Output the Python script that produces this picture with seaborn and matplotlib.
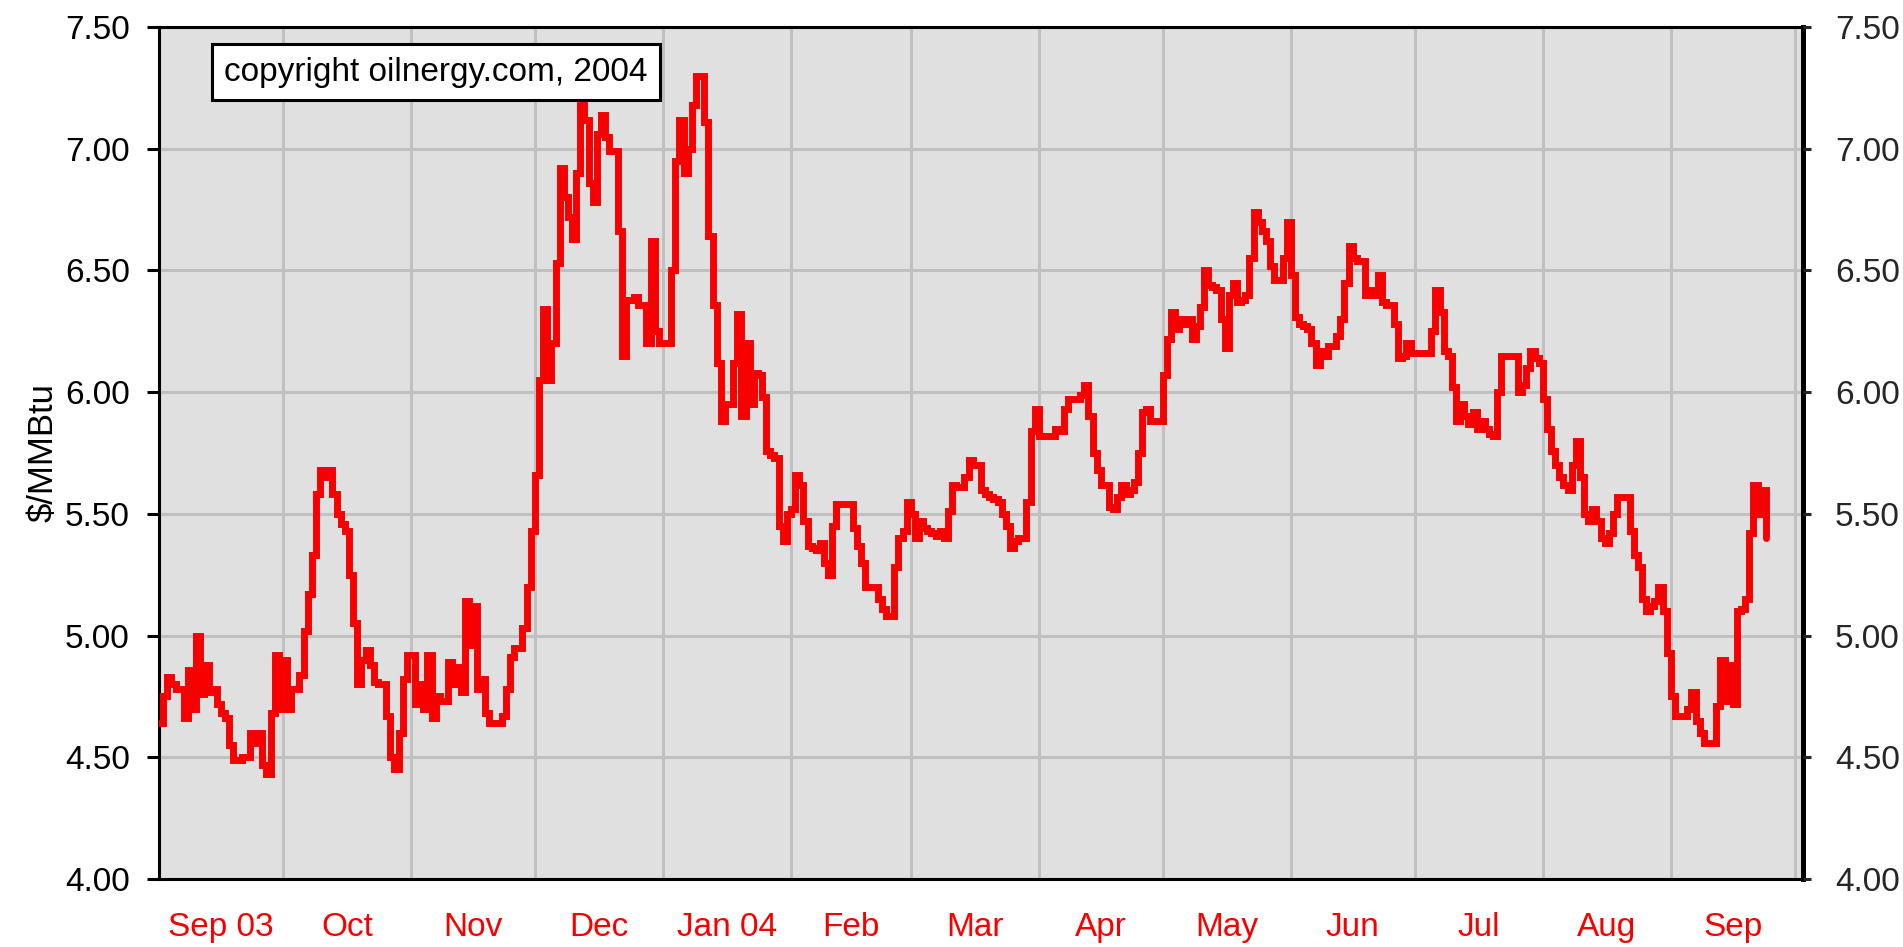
import matplotlib
matplotlib.use("Agg")
import matplotlib.pyplot as plt
import numpy as np
import pandas as pd
import seaborn as sns

# ---------------- data (daily $/MMBtu) ----------------
sep03 = [4.64, 4.75, 4.83, 4.80, 4.78, 4.78, 4.66, 4.86, 4.70, 5.00, 4.76, 4.88, 4.77, 4.78, 4.72,
         4.68, 4.66, 4.55, 4.49, 4.49, 4.50, 4.50, 4.60, 4.56, 4.60, 4.47, 4.43, 4.68, 4.92, 4.70]
oct03 = [4.90, 4.70, 4.78, 4.78, 4.84, 5.02, 5.17, 5.33, 5.58, 5.68, 5.65, 5.68, 5.58, 5.50, 5.46,
         5.43, 5.25, 5.05, 4.80, 4.90, 4.94, 4.88, 4.81, 4.80, 4.80, 4.67, 4.50, 4.45, 4.60, 4.82, 4.92]
nov03 = [4.92, 4.72, 4.80, 4.70, 4.92, 4.66, 4.75, 4.73, 4.73, 4.89, 4.80, 4.87, 4.77, 5.14, 4.96,
         5.12, 4.78, 4.82, 4.68, 4.64, 4.64, 4.64, 4.67, 4.78, 4.91, 4.95, 4.95, 5.03, 5.20, 5.43]
dec03 = [5.66, 6.05, 6.34, 6.05, 6.20, 6.53, 6.92, 6.80, 6.72, 6.63, 6.90, 7.18, 7.12, 6.86, 6.78,
         7.06, 7.14, 7.05, 6.99, 6.99, 6.66, 6.15, 6.38, 6.38, 6.39, 6.36, 6.36, 6.20, 6.62, 6.25, 6.20]
jan04 = [6.20, 6.20, 6.50, 6.95, 7.12, 6.90, 7.00, 7.18, 7.30, 7.30, 7.11, 6.64, 6.36, 6.12, 5.88,
         5.95, 5.95, 6.12, 6.32, 5.90, 6.20, 5.95, 6.08, 6.07, 5.98, 5.76, 5.74, 5.73, 5.45, 5.39, 5.50]
feb04 = [5.52, 5.66, 5.62, 5.47, 5.37, 5.36, 5.35, 5.38, 5.30, 5.25, 5.45, 5.54, 5.54, 5.54, 5.54,
         5.44, 5.37, 5.30, 5.20, 5.20, 5.20, 5.15, 5.11, 5.08, 5.08, 5.28, 5.40, 5.43, 5.55]
mar04 = [5.50, 5.40, 5.47, 5.44, 5.43, 5.42, 5.41, 5.43, 5.40, 5.51, 5.62, 5.61, 5.61, 5.65, 5.72,
         5.70, 5.70, 5.60, 5.58, 5.57, 5.56, 5.55, 5.50, 5.45, 5.36, 5.39, 5.40, 5.40, 5.55, 5.84, 5.93]
apr04 = [5.82, 5.82, 5.82, 5.82, 5.85, 5.84, 5.93, 5.97, 5.97, 5.97, 5.99, 6.03, 5.90, 5.75, 5.68,
         5.62, 5.62, 5.53, 5.52, 5.57, 5.62, 5.58, 5.60, 5.63, 5.75, 5.92, 5.93, 5.88, 5.88, 5.88]
may04 = [6.07, 6.22, 6.33, 6.26, 6.30, 6.28, 6.30, 6.22, 6.27, 6.35, 6.50, 6.44, 6.43, 6.42, 6.30,
         6.18, 6.40, 6.45, 6.37, 6.38, 6.40, 6.55, 6.74, 6.70, 6.66, 6.62, 6.52, 6.46, 6.46, 6.55, 6.70]
jun04 = [6.48, 6.31, 6.28, 6.27, 6.26, 6.20, 6.11, 6.17, 6.15, 6.19, 6.19, 6.23, 6.30, 6.45, 6.60,
         6.55, 6.54, 6.54, 6.40, 6.42, 6.40, 6.48, 6.37, 6.36, 6.36, 6.28, 6.14, 6.15, 6.20, 6.16]
jul04 = [6.16, 6.16, 6.16, 6.16, 6.25, 6.42, 6.33, 6.17, 6.15, 6.02, 5.88, 5.95, 5.90, 5.87, 5.92,
         5.85, 5.88, 5.85, 5.83, 5.82, 6.00, 6.15, 6.15, 6.15, 6.15, 6.00, 6.03, 6.10, 6.17, 6.14, 6.12]
aug04 = [5.97, 5.85, 5.76, 5.70, 5.65, 5.62, 5.60, 5.70, 5.80, 5.65, 5.50, 5.47, 5.52, 5.47, 5.40,
         5.38, 5.42, 5.50, 5.57, 5.57, 5.57, 5.43, 5.33, 5.28, 5.15, 5.10, 5.12, 5.14, 5.20, 5.10, 4.93]
sep04 = [4.75, 4.67, 4.67, 4.67, 4.70, 4.77, 4.65, 4.60, 4.56, 4.56, 4.56, 4.71, 4.90, 4.73, 4.88,
         4.72, 5.10, 5.11, 5.15, 5.42, 5.62, 5.50, 5.60, 5.40]

start_date = "2003-09-01"
axis_end_date = "2004-10-03"
month_labels = ["Sep 03", "Oct", "Nov", "Dec", "Jan 04", "Feb", "Mar", "Apr",
                "May", "Jun", "Jul", "Aug", "Sep"]
y_ticks = [4.00, 4.50, 5.00, 5.50, 6.00, 6.50, 7.00, 7.50]
y_label = "$/MMBtu"
copyright_text = "copyright oilnergy.com, 2004"

# ---------------- build frame ----------------
prices = (sep03 + oct03 + nov03 + dec03 + jan04 + feb04 + mar04 + apr04 +
          may04 + jun04 + jul04 + aug04 + sep04)
dates = pd.date_range(start_date, periods=len(prices), freq="D")
df = pd.DataFrame({"date": dates, "price": prices})

sns.set_style("white")
plt.rcParams["font.family"] = ["Liberation Sans", "DejaVu Sans"]

W, H = 1903, 947
fig = plt.figure(figsize=(W / 100, H / 100), dpi=100)
fig.patch.set_facecolor("white")
L, R, T, B = 159, 1803, 27, 879
ax = fig.add_axes([L / W, 1 - B / H, (R - L) / W, (B - T) / H])
ax.set_facecolor("#e0e0e0")

sns.lineplot(data=df, x="date", y="price", ax=ax, color="#f80000", linewidth=5.0,
             drawstyle="steps-post", estimator=None, solid_joinstyle="miter", zorder=3)

ax.set_xlim(pd.Timestamp(start_date), pd.Timestamp(axis_end_date))
ax.set_ylim(y_ticks[0], y_ticks[-1])

# month starts -> grid lines ; mid-month -> labels
month_starts = pd.date_range(start_date, periods=len(month_labels) + 1, freq="MS")
mids = [month_starts[i] + (month_starts[i + 1] - month_starts[i]) / 2 for i in range(len(month_labels))]
ax.set_xticks(month_starts)
ax.set_xticklabels([])
ax.set_xticks(mids, minor=True)
ax.set_xticklabels(month_labels, minor=True)
ax.tick_params(axis="x", which="both", length=0)
ax.tick_params(axis="x", which="minor", labelsize=24, labelcolor="#f80000", pad=24)

ax.set_yticks(y_ticks)
ax.set_yticklabels([f"{v:.2f}" for v in y_ticks])
ax.tick_params(axis="y", which="major", length=9, width=2.2, pad=12, labelsize=24,
               direction="out", color="black", labelcolor="black")

ax.grid(True, which="major", axis="both", color="#c0c0c0", linewidth=2.2)
ax.set_axisbelow(True)

for side in ["left", "bottom", "top"]:
    ax.spines[side].set_visible(True)
    ax.spines[side].set_color("black")
    ax.spines[side].set_linewidth(2.2)
ax.spines["right"].set_visible(True)
ax.spines["right"].set_color("black")
ax.spines["right"].set_linewidth(3.6)

ax.set_xlabel("")
ax.set_ylabel(y_label, fontsize=25, color="black")
ax.yaxis.set_label_coords((60 - L) / (R - L), 0.5)

# right-hand axis labels
ax2 = ax.twinx()
ax2.set_ylim(ax.get_ylim())
ax2.set_yticks(y_ticks)
ax2.set_yticklabels([f"{v:.2f}" for v in y_ticks])
ax2.tick_params(axis="y", length=6, width=2.2, pad=17, labelsize=24, direction="out")
for s in ax2.spines.values():
    s.set_visible(False)
ax2.grid(False)

# copyright box
ax.text((436 - L) / (R - L), (B - 72) / (B - T), copyright_text, transform=ax.transAxes,
        ha="center", va="center", fontsize=24, color="black", zorder=5,
        bbox=dict(boxstyle="square,pad=0.38", facecolor="white", edgecolor="black", linewidth=2.2))

fig.savefig("out.png", dpi=100, facecolor="white")
